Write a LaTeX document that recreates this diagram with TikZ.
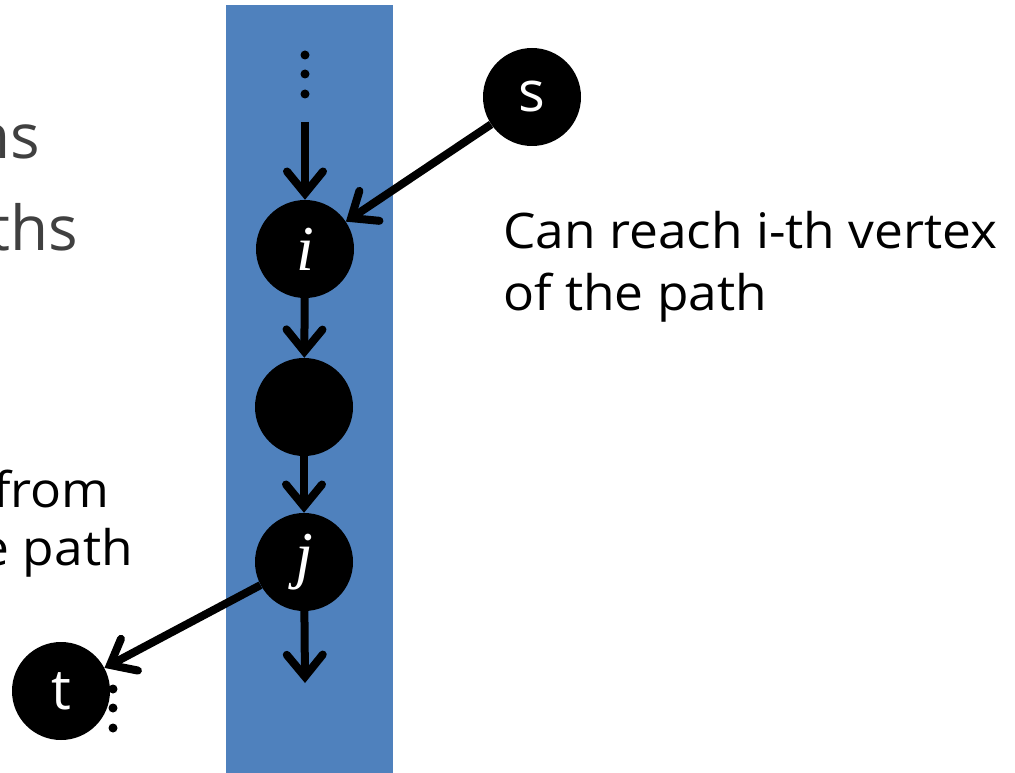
\documentclass[tikz,border=0pt]{standalone}
\usepackage{fontspec}
\setmainfont{Open Sans}
\newfontfamily\lblfont[FakeStretch=1.05]{Open Sans}
\newfontfamily\vfont{Liberation Serif}
\usetikzlibrary{arrows.meta}
\definecolor{pathblue}{RGB}{79,129,189}
\definecolor{greytext}{RGB}{64,64,64}
\tikzset{
  vtx/.style={circle,fill=black,minimum size=98pt,inner sep=0pt,text=white},
  edge/.style={line width=8pt,-{Straight Barb[length=22pt,width=36pt,line cap=round]}},
  dotmark/.style={circle,fill=black,minimum size=9pt,inner sep=0pt},
  label/.style={anchor=base west,inner sep=0pt,font=\lblfont\fontsize{49}{55}\selectfont,align=left},
  greylabel/.style={anchor=base east,inner sep=0pt,text=greytext,font=\fontsize{62}{70}\selectfont}
}
\begin{document}
\begin{tikzpicture}[x=1pt,y=-1pt]
\useasboundingbox (0,0) rectangle (1015,773);
\fill[pathblue] (226,5) rectangle (393,773);
% left partial texts
\node[greylabel] (t1) at (40,159) {ns};
\node[greylabel] (t2) at (78,250) {ths};
\node[label,anchor=base east] (t3) at (110,507) {from};
\node[label,anchor=base east] (t4) at (133,565) {e path};
% right text
\node[label] (t5) at (503,248) {Can reach i-th vertex};
\node[label] (t6) at (503,310) {of the path};
% dots
\node[dotmark] (d1) at (305,55) {};
\node[dotmark] (d2) at (305,74) {};
\node[dotmark] (d3) at (305,94) {};
\node[dotmark] (e1) at (113,689) {};
\node[dotmark] (e2) at (113,708) {};
\node[dotmark] (e3) at (113,728) {};
% vertices
\node[vtx,font=\fontsize{56}{56}\selectfont] (s) at (532,97) {s};
\node[vtx,font=\vfont\itshape\fontsize{64}{64}\selectfont] (i) at (305,249) {i};
\node[vtx] (m) at (304,407) {};
\node[vtx,font=\vfont\itshape\fontsize{64}{64}\selectfont] (j) at (304,562) {j};
\node[vtx,font=\fontsize{56}{56}\selectfont] (t) at (61,691) {t};
\coordinate (top) at (305,122);
\coordinate (bot) at (305,683);
% edges
\draw[edge] (top) -- (i);
\draw[edge] (i) -- (m);
\draw[edge] (m) -- (j);
\draw[edge] (j) -- (bot);
\draw[edge] (s) -- (i);
\draw[edge] (j) -- (t);
\end{tikzpicture}
\end{document}
